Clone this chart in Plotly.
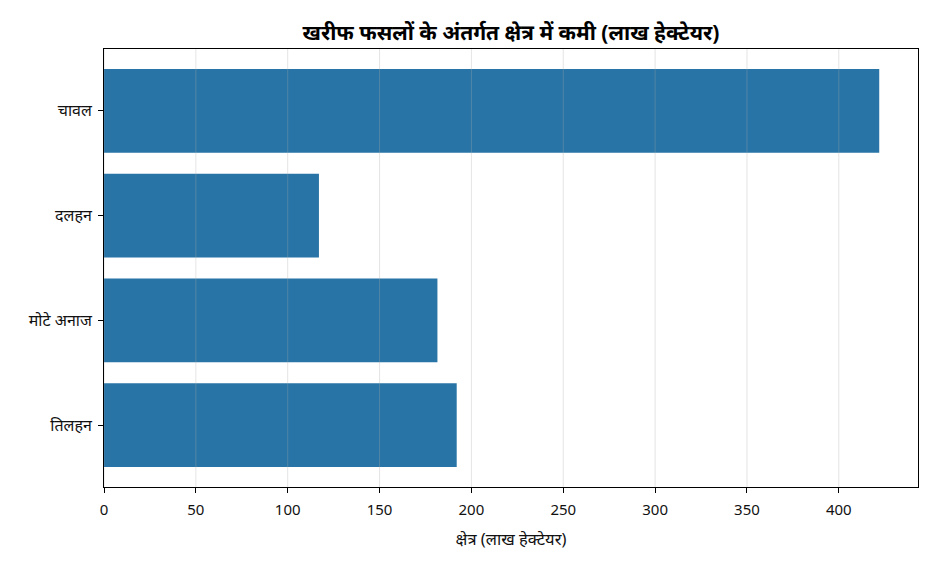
import plotly.graph_objects as go

# खरीफ फसलें और क्षेत्र में कमी (लाख हेक्टेयर)
crops = ['चावल', 'दलहन', 'मोटे अनाज', 'तिलहन']
area_loss = [422, 117, 181.5, 192]
x_ticks = [0, 50, 100, 150, 200, 250, 300, 350, 400]

title_text = 'खरीफ फसलों के अंतर्गत क्षेत्र में कमी (लाख हेक्टेयर)'
x_title = 'क्षेत्र (लाख हेक्टेयर)'

font_family = 'Noto Sans, DejaVu Sans, sans-serif'

fig = go.Figure()
fig.add_trace(go.Bar(
    x=area_loss, y=crops, orientation='h',
    marker=dict(color='#2874a6', line=dict(width=0)),
    width=0.8,
))

# grid drawn over the bars (semi transparent), like the original
for t in x_ticks:
    fig.add_shape(type='line', xref='x', yref='paper', x0=t, x1=t, y0=0, y1=1,
                  line=dict(color='rgba(170,170,170,0.32)', width=1), layer='above')

x_max = max(area_loss) * 1.05

# page body adds ~8px offset, so the figure is a bit smaller than the window
fig.update_layout(
    width=928, height=564,
    margin=dict(l=96, r=18, t=41, b=85),
    plot_bgcolor='white', paper_bgcolor='white',
    font=dict(family=font_family, size=15, color='#111111'),
    title=dict(text='<b>' + title_text + '</b>', x=0.542, xanchor='center',
               y=0.957, yanchor='middle', font=dict(size=21, color='black')),
    showlegend=False,
    bargap=0.2,
)

fig.update_xaxes(
    range=[0, x_max], tickvals=x_ticks,
    showgrid=False,
    showline=True, linecolor='black', linewidth=1, mirror=True,
    ticks='outside', ticklen=5, tickcolor='black',
    tickfont=dict(size=15), ticklabelstandoff=4,
    zeroline=False,
    title=dict(text=x_title, font=dict(size=16.5), standoff=15),
)
fig.update_yaxes(
    type='category', categoryorder='array', categoryarray=crops,
    range=[3.59, -0.59],
    showgrid=False,
    showline=True, linecolor='black', linewidth=1, mirror=True,
    ticks='outside', ticklen=5, tickcolor='black',
    tickfont=dict(size=16), ticklabelstandoff=3,
    zeroline=False,
)

fig.write_html("out.html")
